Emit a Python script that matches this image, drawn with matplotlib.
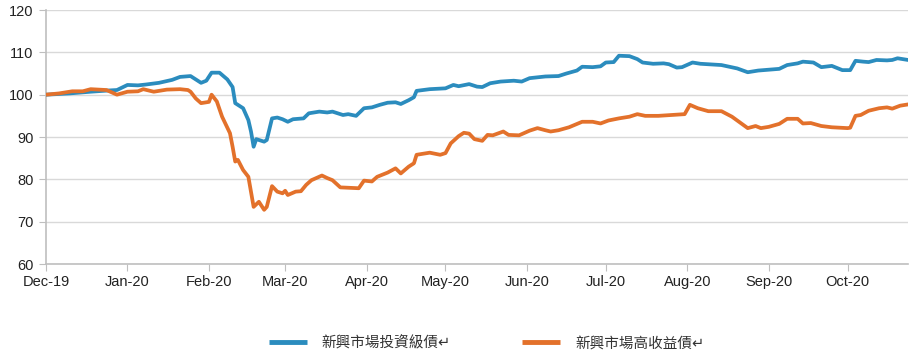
import matplotlib
matplotlib.use("Agg")
import matplotlib.pyplot as plt
import pandas as pd

ig_dates = ["2019-12-01","2019-12-10","2019-12-18","2019-12-25","2019-12-28","2020-01-01","2020-01-05",
    "2020-01-08","2020-01-13","2020-01-18","2020-01-21","2020-01-25","2020-01-29","2020-01-31","2020-02-02",
    "2020-02-05","2020-02-08","2020-02-10","2020-02-11","2020-02-14","2020-02-16","2020-02-17","2020-02-18",
    "2020-02-19","2020-02-22","2020-02-23","2020-02-25","2020-02-27","2020-02-29","2020-03-02","2020-03-04",
    "2020-03-08","2020-03-10","2020-03-14","2020-03-17","2020-03-19","2020-03-23","2020-03-25","2020-03-28",
    "2020-03-31","2020-04-03","2020-04-06","2020-04-09","2020-04-12","2020-04-14","2020-04-17","2020-04-19",
    "2020-04-20","2020-04-25","2020-05-01","2020-05-04","2020-05-06","2020-05-10","2020-05-13","2020-05-15",
    "2020-05-18","2020-05-22","2020-05-27","2020-05-30","2020-06-02","2020-06-08","2020-06-13","2020-06-16",
    "2020-06-20","2020-06-22","2020-06-26","2020-06-29","2020-07-01","2020-07-04","2020-07-06","2020-07-10",
    "2020-07-13","2020-07-15","2020-07-19","2020-07-23","2020-07-25","2020-07-28","2020-07-30","2020-08-03",
    "2020-08-06","2020-08-14","2020-08-20","2020-08-24","2020-08-28","2020-09-05","2020-09-08","2020-09-12",
    "2020-09-14","2020-09-18","2020-09-21","2020-09-25","2020-09-29","2020-10-02","2020-10-04","2020-10-07",
    "2020-10-09","2020-10-12","2020-10-16","2020-10-18","2020-10-20","2020-10-24"]
ig_values = [100.0,100.3,100.7,101.0,101.1,102.3,102.2,
    102.4,102.8,103.5,104.2,104.4,102.8,103.3,105.2,
    105.2,103.6,101.8,98.0,96.8,94.0,91.3,87.7,
    89.5,88.9,89.3,94.4,94.6,94.2,93.6,94.2,
    94.4,95.6,96.0,95.8,96.0,95.2,95.4,95.0,
    96.8,97.0,97.6,98.1,98.2,97.8,98.7,99.4,
    100.9,101.3,101.5,102.3,102.0,102.5,101.9,101.8,
    102.7,103.1,103.3,103.1,103.9,104.3,104.4,105.0,
    105.7,106.6,106.5,106.7,107.6,107.7,109.2,109.1,
    108.4,107.6,107.3,107.4,107.2,106.4,106.5,107.6,
    107.3,107.0,106.2,105.3,105.7,106.1,107.0,107.4,
    107.8,107.6,106.5,106.8,105.8,105.8,108.0,107.8,
    107.7,108.2,108.1,108.2,108.6,108.2]

hy_dates = ["2019-12-01","2019-12-06","2019-12-11","2019-12-15","2019-12-18","2019-12-24","2019-12-28",
    "2020-01-01","2020-01-05","2020-01-07","2020-01-11","2020-01-16","2020-01-21","2020-01-24","2020-01-25",
    "2020-01-27","2020-01-29","2020-02-01","2020-02-02","2020-02-04","2020-02-06","2020-02-09","2020-02-10",
    "2020-02-11","2020-02-12","2020-02-14","2020-02-16","2020-02-18","2020-02-20","2020-02-22","2020-02-23",
    "2020-02-25","2020-02-27","2020-02-29","2020-03-01","2020-03-02","2020-03-05","2020-03-07","2020-03-09",
    "2020-03-11","2020-03-15","2020-03-17","2020-03-19","2020-03-22","2020-03-29","2020-03-31","2020-04-03",
    "2020-04-05","2020-04-09","2020-04-12","2020-04-14","2020-04-17","2020-04-19","2020-04-20","2020-04-25",
    "2020-04-29","2020-05-01","2020-05-03","2020-05-06","2020-05-08","2020-05-10","2020-05-12","2020-05-15",
    "2020-05-17","2020-05-19","2020-05-23","2020-05-25","2020-05-29","2020-06-02","2020-06-05","2020-06-08",
    "2020-06-10","2020-06-13","2020-06-17","2020-06-22","2020-06-26","2020-06-29","2020-07-02","2020-07-06",
    "2020-07-10","2020-07-13","2020-07-16","2020-07-21","2020-07-26","2020-07-31","2020-08-02","2020-08-05",
    "2020-08-09","2020-08-14","2020-08-18","2020-08-24","2020-08-27","2020-08-29","2020-09-01","2020-09-05",
    "2020-09-08","2020-09-12","2020-09-14","2020-09-17","2020-09-21","2020-09-25","2020-10-01","2020-10-02",
    "2020-10-04","2020-10-06","2020-10-09","2020-10-13","2020-10-16","2020-10-18","2020-10-21","2020-10-24"]
hy_values = [100.0,100.3,100.8,100.8,101.3,101.1,100.0,
    100.7,100.8,101.3,100.7,101.2,101.3,101.1,100.7,
    99.1,98.0,98.3,100.0,98.4,94.8,90.9,87.7,
    84.2,84.6,82.2,80.6,73.5,74.7,72.8,73.5,
    78.4,77.1,76.7,77.3,76.3,77.1,77.2,78.7,
    79.8,80.9,80.3,79.8,78.1,77.9,79.7,79.5,
    80.6,81.6,82.6,81.4,83.0,83.8,85.8,86.3,
    85.8,86.2,88.5,90.2,91.0,90.8,89.5,89.1,
    90.5,90.4,91.3,90.5,90.4,91.5,92.1,91.6,
    91.3,91.6,92.3,93.6,93.6,93.2,93.9,94.4,
    94.8,95.4,95.0,95.0,95.2,95.4,97.6,96.8,
    96.1,96.1,94.8,92.1,92.6,92.1,92.4,93.1,
    94.3,94.3,93.2,93.3,92.6,92.3,92.1,92.2,
    95.0,95.2,96.2,96.8,97.0,96.7,97.4,97.7]

series_names = ["新興市場投資級債↵", "新興市場高收益債↵"]
series_colors = ["#2b8cbe", "#e3712b"]
y_ticks = [60, 70, 80, 90, 100, 110, 120]
x_tick_dates = ["2019-12-01","2020-01-01","2020-02-01","2020-03-01","2020-04-01","2020-05-01",
                "2020-06-01","2020-07-01","2020-08-01","2020-09-01","2020-10-01"]
x_tick_labels = ["Dec-19","Jan-20","Feb-20","Mar-20","Apr-20","May-20","Jun-20","Jul-20","Aug-20","Sep-20","Oct-20"]

plt.rcParams['font.family'] = ['Liberation Sans', 'DejaVu Sans']

fig = plt.figure(figsize=(9.2, 3.59), dpi=100)
ax = fig.add_axes([0.05, 0.2646, 0.937, 0.7075])

ax.plot(pd.to_datetime(ig_dates), ig_values, color=series_colors[0], lw=2.7,
        solid_joinstyle='round', label=series_names[0], zorder=3)
ax.plot(pd.to_datetime(hy_dates), hy_values, color=series_colors[1], lw=2.7,
        solid_joinstyle='round', label=series_names[1], zorder=3)

ax.set_ylim(60, 120)
ax.set_yticks(y_ticks)
ax.set_xlim(pd.Timestamp("2019-12-01"), pd.Timestamp("2020-10-24"))
ax.set_xticks(pd.to_datetime(x_tick_dates))
ax.set_xticklabels(x_tick_labels)

ax.grid(axis='y', color='#d9d9d9', lw=1)
ax.set_axisbelow(True)
for s in ['top', 'right']:
    ax.spines[s].set_visible(False)
for s in ['left', 'bottom']:
    ax.spines[s].set_color('#bfbfbf')
    ax.spines[s].set_linewidth(1.2)
ax.tick_params(axis='both', colors='#bfbfbf', labelcolor='#222222', labelsize=10.5, length=5)
ax.tick_params(axis='x', pad=3)
ax.tick_params(axis='y', pad=4)

leg = fig.legend(loc='center', bbox_to_anchor=(0.529, 0.045), ncol=2, frameon=False,
                 handlelength=2.6, columnspacing=4.9, handletextpad=1.0,
                 prop={'family': ['Noto Sans CJK TC', 'DejaVu Sans'], 'size': 10.5})
for t in leg.get_texts():
    t.set_color('#333333')
for l in leg.get_lines():
    l.set_linewidth(3.5)
    l.set_solid_capstyle('butt')

fig.savefig("out.png", dpi=100)
